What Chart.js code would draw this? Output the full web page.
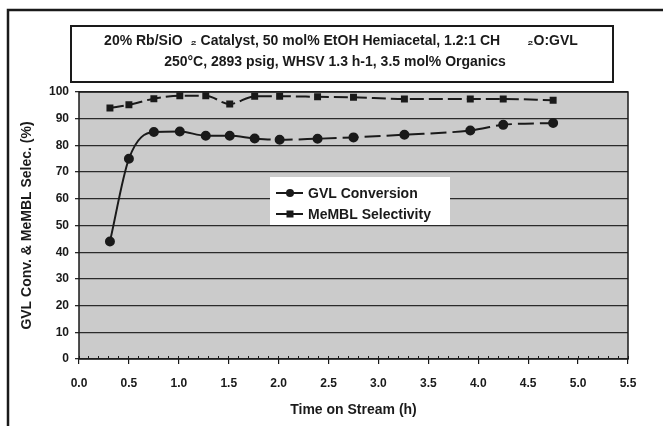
<!DOCTYPE html>
<html>
<head>
<meta charset="utf-8">
<script src="https://cdn.jsdelivr.net/npm/chart.js@4.4.1/dist/chart.umd.min.js"></script>
<style>
  html, body { margin: 0; padding: 0; background: #fff; }
  #wrap { width: 663px; height: 426px; position: relative; }
</style>
</head>
<body>
<div id="wrap"><canvas id="chart"></canvas></div>
<script>
// values
const timeOnStream = [0.31, 0.50, 0.75, 1.01, 1.27, 1.51, 1.76, 2.01, 2.39, 2.75, 3.26, 3.92, 4.25, 4.75];
const gvlConversion = [44, 75, 85, 85.2, 83.6, 83.6, 82.6, 82.1, 82.5, 83, 84, 85.6, 87.7, 88.4];
const memblSelectivity = [94, 95.2, 97.5, 98.6, 98.6, 95.5, 98.4, 98.4, 98.2, 98, 97.4, 97.4, 97.4, 96.9];
const seriesNames = ['GVL Conversion', 'MeMBL Selectivity'];
const titleLines = [
  '20% Rb/SiO  \u2082 Catalyst, 50 mol% EtOH Hemiacetal, 1.2:1 CH       \u2082O:GVL',
  '250\u00B0C, 2893 psig, WHSV 1.3 h-1, 3.5 mol% Organics'
];
const xTitle = 'Time on Stream (h)';
const yTitle = 'GVL Conv. & MeMBL Selec. (%)';

const FONT = 'Arial, "Liberation Sans", sans-serif';
const INK = '#1a1a1a';

function toPoints(xs, ys) {
  return xs.map((x, i) => ({ x: x, y: ys[i] }));
}

const framePlugin = {
  id: 'frame',
  beforeDraw(chart) {
    const { ctx, chartArea: a } = chart;
    ctx.save();
    ctx.fillStyle = '#fff';
    ctx.fillRect(0, 0, chart.width, chart.height);
    ctx.fillStyle = '#cbcbcb';
    ctx.fillRect(a.left, a.top, a.right - a.left, a.bottom - a.top);
    ctx.restore();
  },
  afterDraw(chart) {
    const { ctx, chartArea: a } = chart;
    ctx.save();
    ctx.strokeStyle = INK;

    // plot border
    ctx.lineWidth = 1.5;
    ctx.strokeRect(a.left, a.top, a.right - a.left, a.bottom - a.top);

    // outer frame (runs off the right/bottom edge)
    ctx.lineWidth = 2.5;
    ctx.strokeRect(8, 10, 700, 500);

    // title box
    ctx.lineWidth = 2;
    ctx.fillStyle = '#fff';
    ctx.fillRect(71, 26, 542, 56);
    ctx.strokeRect(71, 26, 542, 56);
    ctx.fillStyle = INK;
    ctx.font = 'bold 14px ' + FONT;
    ctx.textAlign = 'center';
    ctx.textBaseline = 'middle';
    ctx.fillText(titleLines[0], 341, 41);
    ctx.fillText(titleLines[1], 335, 62);

    // legend inside plot
    ctx.fillStyle = '#fff';
    ctx.fillRect(270, 177, 180, 48);
    ctx.textAlign = 'left';
    ctx.font = 'bold 14px ' + FONT;
    chart.data.datasets.forEach((ds, i) => {
      const y = 193 + i * 21;
      ctx.strokeStyle = INK;
      ctx.lineWidth = 2;
      ctx.beginPath();
      ctx.moveTo(276, y);
      ctx.lineTo(303, y);
      ctx.stroke();
      ctx.fillStyle = INK;
      if (ds.pointStyle === 'rect') {
        ctx.fillRect(286.5, y - 3.5, 7, 7);
      } else {
        ctx.beginPath();
        ctx.arc(290, y, 4, 0, Math.PI * 2);
        ctx.fill();
      }
      ctx.fillText(ds.label, 308, y + 1);
    });
    ctx.restore();
  }
};

const ctx = document.getElementById('chart').getContext('2d');
new Chart(ctx, {
  type: 'line',
  data: {
    datasets: [
      {
        label: seriesNames[0],
        data: toPoints(timeOnStream, gvlConversion),
        borderColor: INK,
        backgroundColor: INK,
        borderWidth: 2,
        pointStyle: 'circle',
        pointRadius: 4,
        cubicInterpolationMode: 'monotone',
        segment: {
          borderDash: c => c.p0.parsed.x >= 1.7 ? [16, 6] : undefined
        }
      },
      {
        label: seriesNames[1],
        data: toPoints(timeOnStream, memblSelectivity),
        borderColor: INK,
        backgroundColor: INK,
        borderWidth: 2,
        pointStyle: 'rect',
        pointRadius: 3.5,
        cubicInterpolationMode: 'monotone',
        borderDash: [14, 5]
      }
    ]
  },
  options: {
    responsive: true,
    maintainAspectRatio: false,
    animation: false,
    layout: { padding: { left: 0, top: 92, right: 35, bottom: 0 } },
    plugins: {
      legend: { display: false },
      tooltip: { enabled: false }
    },
    scales: {
      xMinor: {
        type: 'linear',
        position: 'bottom',
        weight: -1,
        min: 0,
        max: 5.5,
        ticks: { display: false, stepSize: 0.1, autoSkip: false },
        grid: { drawOnChartArea: false, color: INK, tickLength: -3, lineWidth: 1 },
        border: { display: false },
        afterFit: s => { s.height = 0; }
      },
      x: {
        type: 'linear',
        position: 'bottom',
        weight: 0,
        min: 0,
        max: 5.5,
        ticks: {
          stepSize: 0.5,
          color: INK,
          font: { family: FONT, size: 12, weight: 'bold' },
          padding: 12,
          callback: v => v.toFixed(1)
        },
        grid: { display: true, drawOnChartArea: false, color: INK, tickLength: 5, lineWidth: 1.2 },
        border: { display: false },
        title: {
          display: true,
          text: xTitle,
          color: INK,
          font: { family: FONT, size: 14, weight: 'bold' },
          padding: { top: 0, bottom: 7 }
        },
        afterFit: s => { s.height = 67; }
      },
      y: {
        min: 0,
        max: 100,
        ticks: {
          stepSize: 10,
          color: INK,
          font: { family: FONT, size: 12, weight: 'bold' },
          padding: 6
        },
        grid: { color: '#2a2a2a', lineWidth: 1.3, tickLength: 4 },
        border: { display: false },
        title: {
          display: true,
          text: yTitle,
          color: INK,
          font: { family: FONT, size: 14, weight: 'bold' },
          padding: { top: 19, bottom: 0 }
        },
        afterFit: s => { s.width = 79; }
      }
    }
  },
  plugins: [framePlugin]
});
</script>
</body>
</html>
